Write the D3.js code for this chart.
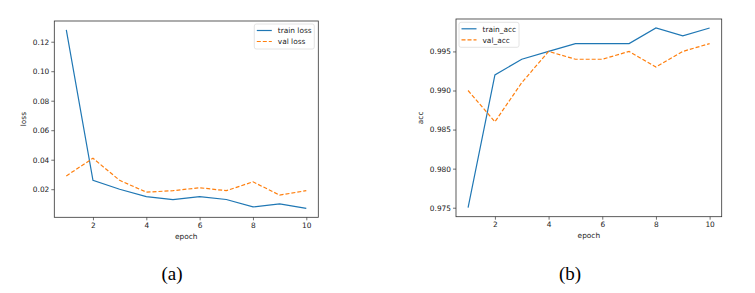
<!DOCTYPE html>
<html>
<head>
<meta charset="utf-8">
<script src="https://cdn.jsdelivr.net/npm/d3@7"></script>
<style>
  body { margin: 0; background: #fff; }
  svg { display: block; }
  text { font-family: "DejaVu Sans", sans-serif; }
</style>
</head>
<body>
<svg id="chart" width="755" height="293"></svg>
<script>
// epochs 1..10
const epochs = [1, 2, 3, 4, 5, 6, 7, 8, 9, 10]
const trainLoss = [0.128, 0.026, 0.020, 0.015, 0.013, 0.015, 0.013, 0.008, 0.010, 0.007]
const valLoss = [0.029, 0.041, 0.026, 0.018, 0.019, 0.021, 0.019, 0.025, 0.016, 0.019]
const trainAcc = [0.975, 0.992, 0.994, 0.995, 0.996, 0.996, 0.996, 0.998, 0.997, 0.998]
const valAcc = [0.990, 0.986, 0.991, 0.995, 0.994, 0.994, 0.995, 0.993, 0.995, 0.996]
const xTicks = [2, 4, 6, 8, 10]
const lossTicks = [0.02, 0.04, 0.06, 0.08, 0.10, 0.12]
const accTicks = [0.975, 0.980, 0.985, 0.990, 0.995]

const svg = d3.select('#chart')
const blue = '#1f77b4'
const orange = '#ff7f0e'
const fs = '7.4px'

// matplotlib style 5% margins around data
function padDomain(vals) {
  let lo = d3.min(vals), hi = d3.max(vals)
  let m = (hi - lo) * 0.05
  return [lo - m, hi + m]
}

function drawPanel(p) {
  let g = svg.append('g')
  let x = d3.scaleLinear().domain(padDomain(epochs)).range([p.left, p.right])
  let y = d3.scaleLinear().domain(padDomain(p.train.concat(p.val))).range([p.bottom, p.top])

  let xAxis = g.append('g')
    .attr('transform', `translate(0,${p.bottom})`)
    .call(d3.axisBottom(x).tickValues(xTicks).tickSize(3).tickPadding(2.5).tickFormat(d3.format('d')))
  let yAxis = g.append('g')
    .attr('transform', `translate(${p.left},0)`)
    .call(d3.axisLeft(y).tickValues(p.yTicks).tickSize(3).tickPadding(2).tickFormat(d3.format(p.fmt)))

  for (let a of [xAxis, yAxis]) {
    a.select('.domain').remove()
    a.selectAll('text').style('font-size', fs).attr('fill', '#222')
    a.selectAll('line').attr('stroke', '#333').attr('stroke-width', 0.7)
  }

  let line = d3.line().x((d, i) => x(epochs[i])).y(d => y(d))
  g.append('path').datum(p.train).attr('d', line)
    .attr('fill', 'none').attr('stroke', blue).attr('stroke-width', 1.2)
  g.append('path').datum(p.val).attr('d', line)
    .attr('fill', 'none').attr('stroke', orange).attr('stroke-width', 1.2)
    .attr('stroke-dasharray', '4,2')

  g.append('rect')
    .attr('x', p.left).attr('y', p.top)
    .attr('width', p.right - p.left).attr('height', p.bottom - p.top)
    .attr('fill', 'none').attr('stroke', '#333').attr('stroke-width', 0.8)

  g.append('text').text('epoch')
    .attr('x', (p.left + p.right) / 2).attr('y', p.bottom + 21.5)
    .attr('text-anchor', 'middle').style('font-size', fs).attr('fill', '#222')
  g.append('text').text(p.ylabel)
    .attr('transform', `translate(${p.ylabelX},${(p.top + p.bottom) / 2}) rotate(-90)`)
    .attr('text-anchor', 'middle').style('font-size', fs).attr('fill', '#222')

  // legend
  let lg = g.append('g')
  lg.append('rect')
    .attr('x', p.legX).attr('y', p.legY).attr('width', 60).attr('height', 25).attr('rx', 2)
    .attr('fill', '#fff').attr('fill-opacity', 0.8).attr('stroke', '#ddd').attr('stroke-width', 0.8)
  let items = [[p.names[0], blue, null], [p.names[1], orange, '4,2']]
  items.forEach((it, i) => {
    let yy = p.legY + 6.5 + i * 11
    lg.append('line')
      .attr('x1', p.legX + 2.5).attr('x2', p.legX + 17.5).attr('y1', yy).attr('y2', yy)
      .attr('stroke', it[1]).attr('stroke-width', 1.2).attr('stroke-dasharray', it[2])
    lg.append('text').text(it[0])
      .attr('x', p.legX + 23.5).attr('y', yy + 2.8)
      .style('font-size', fs).attr('fill', '#222')
  })

  svg.append('text').text(p.caption)
    .attr('x', p.capX).attr('y', 280)
    .attr('text-anchor', 'middle')
    .style('font-family', '"Liberation Serif", "Times New Roman", serif')
    .style('font-size', '19px').attr('fill', '#000')
}

drawPanel({
  left: 54.3, right: 318.3, top: 21, bottom: 217.3,
  train: trainLoss, val: valLoss, yTicks: lossTicks, fmt: '.2f',
  ylabel: 'loss', ylabelX: 26, names: ['train loss', 'val loss'],
  legX: 254.3, legY: 24, caption: '(a)', capX: 172
})

drawPanel({
  left: 456, right: 721.7, top: 19, bottom: 216.7,
  train: trainAcc, val: valAcc, yTicks: accTicks, fmt: '.3f',
  ylabel: 'acc', ylabelX: 423, names: ['train_acc', 'val_acc'],
  legX: 459, legY: 22.3, caption: '(b)', capX: 570
})
</script>
</body>
</html>
